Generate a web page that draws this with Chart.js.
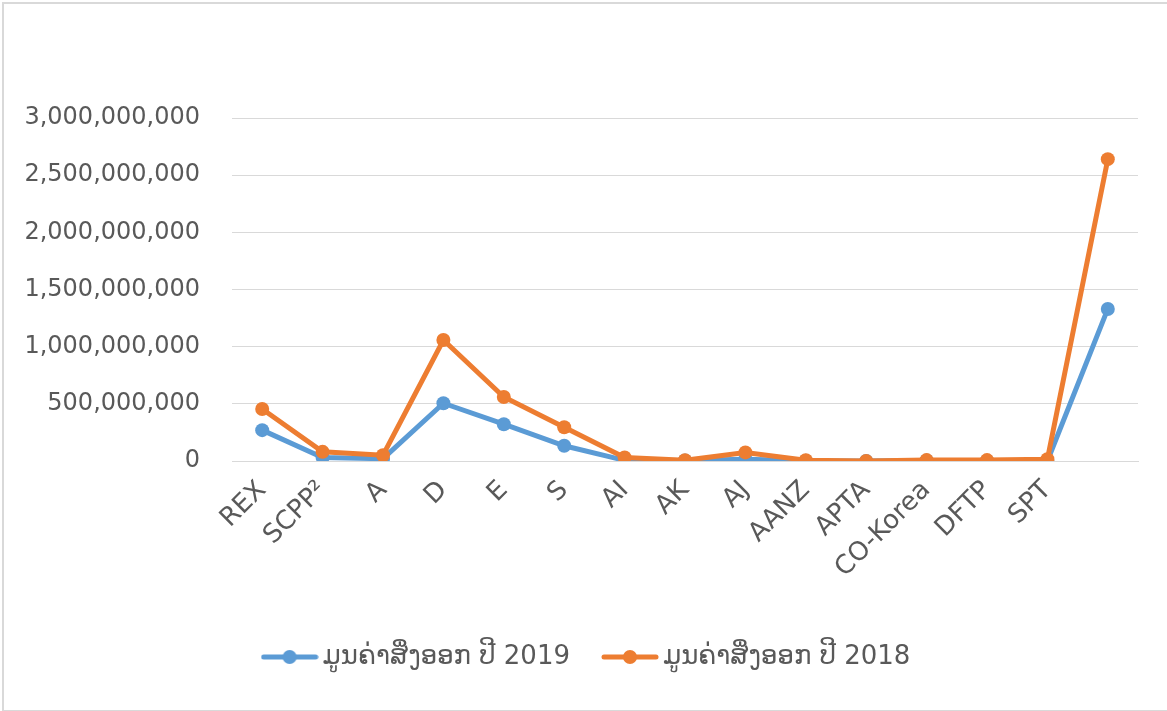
<!DOCTYPE html>
<html>
<head>
<meta charset="utf-8">
<script src="https://cdn.jsdelivr.net/npm/chart.js@4.4.1/dist/chart.umd.min.js"></script>
<style>
  html, body { margin: 0; padding: 0; background: #fff; }
  #wrap { position: relative; width: 1167px; height: 711px; }
  #frame { position: absolute; left: 2px; top: 2px; width: 1180px; height: 706px;
           border-left: 2px solid #d9d9d9; border-top: 2px solid #d9d9d9; border-bottom: 2px solid #d9d9d9; }
  canvas { position: absolute; left: 0; top: 0; }
</style>
</head>
<body>
<div id="wrap">
  <div id="frame"></div>
  <canvas id="chart_export" width="1167" height="711"></canvas>
</div>
<script>
/* data */
var labels = ['REX', 'SCPP²', 'A', 'D', 'E', 'S', 'AI', 'AK', 'AJ', 'AANZ', 'APTA', 'CO-Korea', 'DFTP', 'SPT', ''];
var values_2019 = [270e6, 30e6, 20e6, 505e6, 322e6, 133e6, 6e6, 4e6, 15e6, 2e6, 1e6, 5e6, 3e6, 0, 1330e6];
var values_2018 = [455e6, 80e6, 50e6, 1058e6, 560e6, 295e6, 30e6, 6e6, 75e6, 6e6, 0, 8e6, 8e6, 15e6, 2640e6];
var series_names = ['ມູນຄ່າສິ່ງອອກ ປີ 2019', 'ມູນຄ່າສິ່ງອອກ ປີ 2018'];
var colors = ['#5b9bd5', '#ed7d31'];

// legend icon: short line with a dot, like the office legend
function legendIcon(color) {
    var c = document.createElement('canvas');
    c.width = 58; c.height = 16;
    var g = c.getContext('2d');
    g.strokeStyle = color;
    g.lineWidth = 5;
    g.lineCap = 'round';
    g.beginPath(); g.moveTo(3, 8); g.lineTo(55, 8); g.stroke();
    g.fillStyle = color;
    g.beginPath(); g.arc(29, 8, 7, 0, Math.PI * 2); g.fill();
    return c;
}

// legend sits a bit right of the plot centre in the original
var legendShift = {
    id: 'legendShift',
    afterLayout: function (chart) {
        chart.legend.left += 21;
        chart.legend.right += 21;
    }
};

var fontFam = "'DejaVu Sans', sans-serif";
var ctx = document.getElementById('chart_export').getContext('2d');

var chart = new Chart(ctx, {
    type: 'line',
    data: {
        labels: labels,
        datasets: [
            {
                label: series_names[0],
                data: values_2019,
                borderColor: colors[0],
                backgroundColor: colors[0],
                borderWidth: 5,
                pointRadius: 7,
                pointHoverRadius: 7,
                pointBorderWidth: 0,
                tension: 0,
                order: 1,
                icon: legendIcon(colors[0])
            },
            {
                label: series_names[1],
                data: values_2018,
                borderColor: colors[1],
                backgroundColor: colors[1],
                borderWidth: 5,
                pointRadius: 7,
                pointHoverRadius: 7,
                pointBorderWidth: 0,
                tension: 0,
                order: 0,
                icon: legendIcon(colors[1])
            }
        ]
    },
    plugins: [legendShift],
    options: {
        responsive: false,
        animation: false,
        layout: {
            padding: { top: 118, right: 29, bottom: 31, left: 0 }
        },
        plugins: {
            tooltip: { enabled: false },
            legend: {
                position: 'bottom',
                labels: {
                    usePointStyle: true,
                    pointStyleWidth: 40,
                    padding: 40,
                    color: '#595959',
                    font: { family: fontFam, size: 26 },
                    sort: function (a, b) { return a.datasetIndex - b.datasetIndex; },
                    generateLabels: function (chart) {
                        var items = Chart.defaults.plugins.legend.labels.generateLabels(chart);
                        items.forEach(function (it) {
                            it.pointStyle = chart.data.datasets[it.datasetIndex].icon;
                        });
                        return items;
                    }
                }
            }
        },
        scales: {
            x: {
                offset: true,
                afterFit: function (scale) { scale.height = 143; },
                grid: { display: false, drawTicks: false },
                border: { display: true, color: '#d9d9d9', width: 1 },
                ticks: {
                    color: '#595959',
                    font: { family: fontFam, size: 26 },
                    maxRotation: 45,
                    minRotation: 45,
                    autoSkip: false,
                    padding: 14
                }
            },
            y: {
                min: 0,
                max: 3000000000,
                afterFit: function (scale) { scale.width = 232; },
                grid: { color: '#d9d9d9', lineWidth: 1, drawTicks: false },
                border: { display: false },
                ticks: {
                    stepSize: 500000000,
                    color: '#595959',
                    padding: 32,
                    font: { family: fontFam, size: 24 },
                    callback: function (v) { return v.toLocaleString('en-US'); }
                }
            }
        }
    }
});
</script>
</body>
</html>
